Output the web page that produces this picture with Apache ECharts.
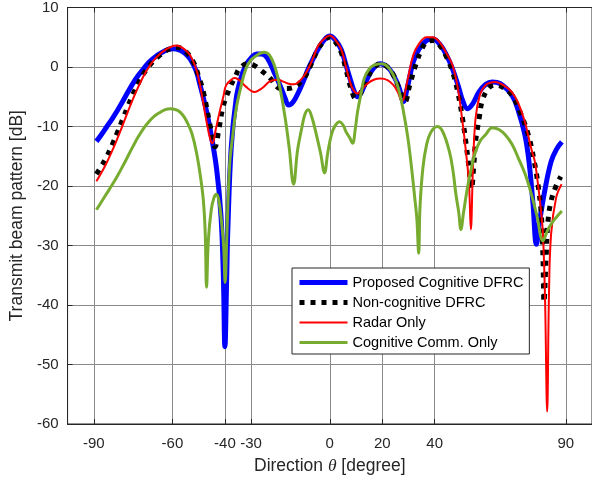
<!DOCTYPE html>
<html><head><meta charset="utf-8">
<script src="https://cdn.jsdelivr.net/npm/echarts@6/dist/echarts.min.js"></script>
<style>html,body{margin:0;padding:0;background:#fff}#c{width:592px;height:482px}</style>
</head><body><div id="c"></div>
<script>
const xTicks = [-90, -60, -40, -30, 0, 20, 40, 90];
const yMin = -60, yMax = 10, yStep = 10;
const xMin = -100, xMax = 100;
const seriesNames = ['Proposed Cognitive DFRC', 'Non-cognitive DFRC', 'Radar Only', 'Cognitive Comm. Only'];

const proposedData = [
[-89,-12.5],[-87,-11.3],[-85,-10],[-83,-8.7],[-81,-7.3],[-79,-5.8],[-77,-4.2],[-75,-2.7],[-73,-1.4],[-71,-0.3],
[-69,0.8],[-66,1.9],[-63,2.7],[-60,3.05],[-57,2.8],[-55,2.2],[-53.2,1.3],[-51,-0.6],[-49.5,-3.0],[-47.5,-6.5],
[-45.7,-10.3],[-43.2,-17],[-41.5,-25],[-40.6,-35],[-40,-47],[-39.3,-35],[-38.9,-27.5],[-37.6,-13.6],[-35.7,-5.3],[-34,-2],
[-32,0.3],[-30,1.5],[-28,2.2],[-26,2.2],[-23.8,1.5],[-20.7,-1.4],[-18.5,-3.6],[-17,-5.3],[-15.7,-6.4],[-14,-5.9],
[-11.9,-4.2],[-10,-2.3],[-8.2,-0.3],[-6,1.7],[-4.4,3.05],[-2,4.6],[0,5.2],[2,4.6],[4.3,3.0],[6,0.6],
[8.1,-2.5],[9.5,-4.3],[10.6,-5.0],[12,-4.3],[14.3,-1.95],[16.5,-0.3],[19.3,0.55],[22,0],[24.3,-1.4],[26.5,-3.6],
[28.1,-5.8],[29.5,-3.6],[31.8,0.8],[34,3.0],[36.9,4.45],[39.3,4.7],[42,3.8],[44.5,2],[46.8,-0.3],[49,-3.2],
[50.8,-5.8],[52.5,-7],[54.5,-6.2],[56.9,-4.2],[59.5,-2.9],[61.9,-2.5],[65,-2.8],[69.4,-4.7],[72,-7.5],[74.4,-11.4],
[76,-16],[77.5,-23],[78.8,-29.8],[80,-26],[81.9,-21],[84.4,-15.9],[86.5,-13.8],[88.5,-12.6]
];

const noncognitiveData = [
[-89,-18],[-87,-16.6],[-85,-15],[-83,-13.1],[-81,-11],[-79,-8.8],[-77,-6.6],[-75,-4.5],[-73,-2.7],[-71,-1.1],
[-69,0.1],[-67,1.1],[-65,1.9],[-63,2.6],[-60.5,3.1],[-58.3,3.3],[-55,2.6],[-52,0.8],[-50,-1.6],[-48.2,-4.2],
[-45.7,-9.7],[-43.8,-13.4],[-42.2,-10.2],[-40.7,-6.7],[-38.2,-3.6],[-36,-1.6],[-34.5,-0.3],[-31.3,0.55],[-29,0.3],[-26.3,-0.55],
[-22.6,-1.95],[-20.5,-3.2],[-19,-3.6],[-16,-3.6],[-13.2,-3.3],[-11,-2.5],[-9.5,-1.7],[-7,0.6],[-4.4,3.05],[-2,4.5],
[0,5.0],[2,4.3],[4.3,2.5],[6,-0.1],[8.1,-3.6],[9.9,-5.3],[11.5,-4.6],[14.3,-1.95],[16.5,-0.3],[19.3,0.55],
[22,0],[24.3,-1.4],[26.5,-3.6],[28.7,-5.8],[30.5,-3],[33.1,0.8],[35,2.9],[36.9,4.2],[39.3,4.45],[42,3.6],
[44.5,1.7],[46.8,-0.8],[48.8,-4.2],[50.6,-8.6],[52,-13],[53.1,-17],[54,-20.5],[55,-16],[55.6,-12.5],[57,-8.5],
[58.1,-5.8],[60.5,-3.6],[63.1,-3.05],[66,-3.4],[69.4,-4.7],[72.5,-7.5],[75.7,-11.4],[77.8,-15.5],[79.4,-19.7],[80.7,-25],
[81.3,-32],[81.7,-39.5],[82.5,-32],[83.2,-26],[84.4,-22.5],[86.3,-20],[88.1,-18.4]
];

const radarData = [
[-89,-19.2],[-87,-17.7],[-85,-16.0],[-83,-14.1],[-81,-12.0],[-79,-9.8],[-77,-7.5],[-75,-5.3],[-73,-3.3],[-71,-1.5],
[-69,0],[-67,1.2],[-65,2.1],[-63,2.8],[-60.5,3.4],[-58.3,3.6],[-55.5,3.0],[-53.2,1.95],[-51,-0.3],[-49.5,-3.05],
[-47,-9.2],[-45.5,-12.3],[-44.7,-12.8],[-43.5,-10.5],[-42,-7.5],[-40.5,-4.8],[-39.5,-3.05],[-37,-1.95],[-36.3,-1.85],[-34.5,-2.2],
[-32,-3.3],[-28.8,-4.2],[-27,-3.9],[-25.1,-3.3],[-23.2,-2.5],[-21,-2.2],[-19.4,-2.2],[-17.5,-2.5],[-15.7,-2.8],[-13.5,-2.9],
[-11.9,-2.5],[-10,-1.6],[-8.2,-0.3],[-6,1.9],[-4.4,3.6],[-2,4.8],[0,5.3],[2,4.6],[4.3,3.05],[6,0.3],
[8.1,-3.05],[9.5,-4.2],[10.6,-4.45],[12,-3.9],[14.3,-2.8],[17,-2.1],[19.3,-1.95],[22,-2.2],[24.3,-3.05],[26,-4.3],
[27.5,-5.8],[29.5,-2.5],[31.8,1.95],[34,3.9],[36.9,5.0],[39.3,5.0],[42,4.1],[44.5,2.3],[46.8,0.3],[48.8,-3.5],
[50.6,-9.2],[52,-14.5],[53.1,-19.7],[53.8,-27.3],[54.6,-17],[55.6,-8.6],[57.3,-4.6],[59.4,-3.05],[61.5,-2.6],[63.1,-2.5],
[66,-3.0],[69.4,-4.2],[72,-6.2],[74.4,-9.2],[75.6,-11.4],[77,-14],[78.2,-15.9],[79.4,-19.7],[80.5,-24],[81.3,-28.1],
[82.1,-39.2],[82.9,-57.9],[83.6,-38],[84.4,-28.1],[86.3,-22],[88.4,-19.7]
];

const commData = [
[-89,-24],[-87,-22.6],[-85,-21.2],[-83,-19.8],[-81,-18.3],[-79,-16.7],[-77,-15],[-75,-13.3],[-73,-11.7],[-71,-10.3],
[-69,-9.2],[-67,-8.3],[-65,-7.7],[-63,-7.2],[-60.7,-7.0],[-58,-7.3],[-56,-8.1],[-54.5,-9.2],[-52.5,-11.3],[-50.7,-14.7],
[-49.3,-18.5],[-48.2,-22.5],[-47.5,-28],[-47,-37],[-46.3,-29],[-45.2,-24],[-44.2,-22],[-43.2,-21.4],[-42.3,-22.5],[-41.3,-26],
[-40.5,-30],[-39.9,-36.2],[-39.3,-29],[-38.2,-16.4],[-37,-11.5],[-35.7,-7.0],[-34,-3.5],[-32,-0.3],[-30,1.2],[-27,2.2],
[-25.1,2.5],[-23,2.0],[-20.7,-0.3],[-19,-3.5],[-17,-8.6],[-15.5,-13.5],[-13.8,-19.7],[-12.3,-14],[-10.7,-10.3],[-9.5,-8],
[-8.2,-7.2],[-6.8,-8.5],[-5.1,-11.4],[-3.5,-14.5],[-2,-17.8],[-0.8,-14.5],[0.6,-11.4],[2,-9.9],[3.7,-9.2],[5,-9.7],
[6.2,-10.9],[7.5,-11.8],[8.7,-12.8],[9.7,-10.5],[10.6,-7.5],[12,-4.3],[13.1,-1.95],[14.8,-0.5],[16.8,0.3],[20,0.55],
[22.2,0],[24.3,-1.4],[26.3,-3.8],[28.1,-7.5],[29.8,-12],[31.2,-17],[32.4,-22],[33.2,-25.5],[33.9,-31.3],[34.4,-23.6],
[35.5,-17],[36.9,-13.1],[38.5,-11],[41,-10],[43,-10.8],[45.6,-14.2],[47,-17.5],[48.1,-21.4],[49.2,-24.5],[50,-27.3],
[51,-24.5],[52.5,-20.3],[54,-17],[55.6,-14.2],[57.5,-12.3],[59.4,-11.4],[61.9,-10.2],[64.5,-10.5],[66.9,-11.4],[69.5,-13],
[71.9,-15.3],[74.5,-18],[76.9,-21.4],[79,-25],[81.3,-29.2],[83,-27.5],[84.4,-26.4],[86.5,-25.2],[88.5,-24.2]
];

const FONT = '"Liberation Sans", Arial, Helvetica, sans-serif';
const AXIS_COLOR = '#262626';
const GRID_COLOR = '#8a8a8a';

const chart = echarts.init(document.getElementById('c'), null, {renderer: 'canvas'});

function lineSeries(name, data, color, width, type, z) {
  return {
    name: name, type: 'line', data: data, showSymbol: false, symbol: 'none',
    smooth: 0.4, z: z, animation: false,
    lineStyle: {color: color, width: width, type: type, cap: 'butt', join: 'round'},
    itemStyle: {color: color},
    emphasis: {disabled: true}
  };
}

chart.setOption({
  backgroundColor: '#fff',
  animation: false,
  textStyle: {fontFamily: FONT},
  grid: {left: 62, right: -3, top: 5, bottom: 58, show: true, borderColor: AXIS_COLOR, borderWidth: 1, backgroundColor: 'transparent', containLabel: false},
  legend: {
    orient: 'vertical', left: 292, top: 268,
    padding: [7, 6, 4, 5], itemWidth: 48, itemHeight: 14, itemGap: 5,
    backgroundColor: '#fff', borderColor: AXIS_COLOR, borderWidth: 1, borderRadius: 0,
    itemStyle: {opacity: 0},
    lineStyle: {width: 'inherit', type: 'inherit', cap: 'butt'},
    textStyle: {fontSize: 14.5, lineHeight: 14, color: '#000', fontFamily: FONT},
    data: seriesNames
  },
  xAxis: [{
    type: 'value', min: xMin, max: xMax, position: 'bottom',
    name: 'Direction {i|θ} [degree]', nameLocation: 'middle', nameGap: 33,
    nameTextStyle: {fontSize: 17.5, color: '#262626', fontFamily: FONT, rich: {i: {fontSize: 17.5, fontStyle: 'italic', fontFamily: '"Liberation Serif", "DejaVu Serif", serif', color: '#262626'}}},
    axisLine: {show: true, onZero: false, lineStyle: {color: AXIS_COLOR, width: 1}},
    axisTick: {show: true, inside: true, length: 5, customValues: xTicks, lineStyle: {color: AXIS_COLOR}},
    axisLabel: {customValues: xTicks, fontSize: 15, color: '#262626', margin: 12, fontFamily: FONT},
    splitLine: {show: true, lineStyle: {color: GRID_COLOR, width: 1}}
  }, {
    type: 'value', min: xMin, max: xMax, position: 'top',
    axisLine: {show: true, onZero: false, lineStyle: {color: AXIS_COLOR, width: 1}},
    axisTick: {show: true, inside: true, length: 5, customValues: xTicks, lineStyle: {color: AXIS_COLOR}},
    axisLabel: {show: false},
    splitLine: {show: false}
  }],
  yAxis: {
    type: 'value', min: yMin, max: yMax, interval: yStep,
    name: 'Transmit beam pattern [dB]', nameLocation: 'middle', nameGap: 36,
    nameTextStyle: {fontSize: 17.5, color: '#262626', fontFamily: FONT},
    axisLine: {show: true, onZero: false, lineStyle: {color: AXIS_COLOR, width: 1}},
    axisTick: {show: true, inside: true, length: 5, lineStyle: {color: AXIS_COLOR}},
    axisLabel: {fontSize: 15, color: '#262626', margin: 9, fontFamily: FONT},
    splitLine: {show: true, lineStyle: {color: GRID_COLOR, width: 1}}
  },
  series: [
    lineSeries(seriesNames[0], proposedData, '#0000ff', 5, 'solid', 2),
    lineSeries(seriesNames[1], noncognitiveData, '#000000', 5, [5, 6], 3),
    lineSeries(seriesNames[2], radarData, '#ff0000', 2, 'solid', 4),
    lineSeries(seriesNames[3], commData, '#77ac30', 3, 'solid', 5)
  ]
});
</script>
</body></html>
